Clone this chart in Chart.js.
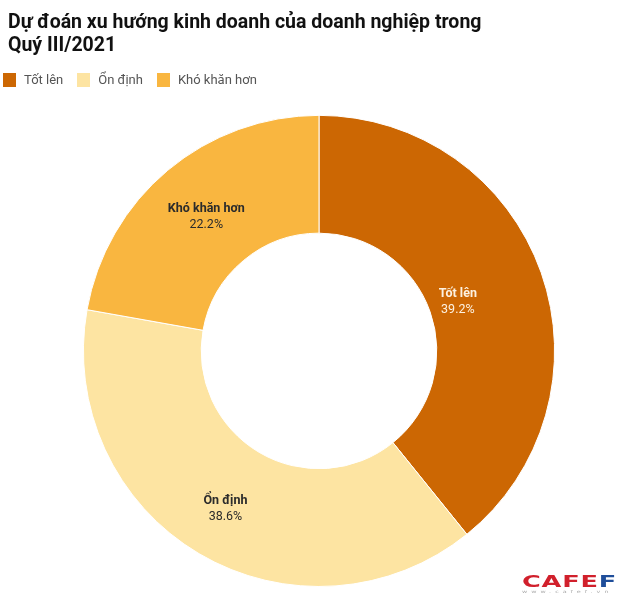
<!DOCTYPE html>
<html>
<head>
<meta charset="utf-8">
<script src="https://cdn.jsdelivr.net/npm/chart.js@4"></script>
<style>
  html, body { margin: 0; padding: 0; background: #fff; }
  #wrap { position: relative; width: 630px; height: 601px; }
  #legend { position: absolute; left: 3px; top: 73px; display: flex; font-family: Roboto, sans-serif; font-size: 13px; color: #555; line-height: 14px; }
  #legend .item { display: flex; align-items: center; margin-right: 14px; }
  #legend .box { width: 13px; height: 14px; margin-right: 8px; }
  #logo { position: absolute; left: 522px; top: 574px; font-family: 'DejaVu Sans', sans-serif; font-weight: bold; font-size: 16px; letter-spacing: 0.5px; line-height: 15px; transform: scaleX(1.6); transform-origin: left top; }
  #logo .r { color: #d1202c; }
  #logo .b { color: #1f4e9a; }
  #logo small { display: block; font-size: 4px; line-height: 5px; color: #aaa; font-weight: normal; letter-spacing: 2.5px; }
</style>
</head>
<body>
<div id="wrap">
  <canvas id="chart" width="630" height="601"></canvas>
  <div id="legend"></div>
  <div id="logo"><span class="r">CAFE</span><span class="b">F</span><small>www.cafef.vn</small></div>
</div>
<script>
const TITLE_LINES = ['Dự đoán xu hướng kinh doanh của doanh nghiệp trong', 'Quý III/2021'];
const CATEGORIES = ['Tốt lên', 'Ổn định', 'Khó khăn hơn'];
const SHARES = [39.2, 38.6, 22.2];
const COLORS = ['#cc6703', '#fde4a2', '#f9b640'];
const LABEL_COLORS = ['#fdf1e0', '#2b2b2b', '#2b2b2b'];
// where inside the ring each label sits (0 = inner edge, 1 = outer edge)
const LABEL_DEPTH = [0.25, 0.56, 0.49];

// legend row under the title
const legendEl = document.getElementById('legend');
CATEGORIES.forEach((name, i) => {
  const item = document.createElement('div');
  item.className = 'item';
  item.innerHTML = `<span class="box" style="background:${COLORS[i]}"></span><span>${name}</span>`;
  legendEl.appendChild(item);
});

const sliceLabels = {
  id: 'sliceLabels',
  afterDatasetsDraw(chart) {
    const ctx = chart.ctx;
    const meta = chart.getDatasetMeta(0);
    meta.data.forEach((arc, i) => {
      const p = arc.getProps(['x', 'y', 'startAngle', 'endAngle', 'innerRadius', 'outerRadius']);
      const mid = (p.startAngle + p.endAngle) / 2;
      const r = p.innerRadius + (p.outerRadius - p.innerRadius) * LABEL_DEPTH[i];
      const x = p.x + Math.cos(mid) * r;
      const y = p.y + Math.sin(mid) * r;
      ctx.save();
      ctx.fillStyle = LABEL_COLORS[i];
      ctx.textAlign = 'center';
      ctx.textBaseline = 'middle';
      ctx.font = 'bold 12.5px Roboto';
      ctx.fillText(CATEGORIES[i], x, y - 8);
      ctx.font = '12.5px Roboto';
      ctx.fillText(SHARES[i].toFixed(1) + '%', x, y + 8);
      ctx.restore();
    });
  }
};

new Chart(document.getElementById('chart'), {
  type: 'doughnut',
  data: {
    labels: CATEGORIES,
    datasets: [{
      data: SHARES,
      backgroundColor: COLORS,
      borderColor: '#ffffff',
      borderWidth: 1,
    }],
  },
  options: {
    responsive: false,
    animation: false,
    cutout: '50%',
    layout: { padding: { left: 8, right: 0, top: 8, bottom: 14 } },
    plugins: {
      title: {
        display: true,
        text: TITLE_LINES,
        align: 'start',
        color: '#111',
        font: { family: 'Roboto', size: 19.5, weight: 'bold', lineHeight: 1.15 },
        padding: { top: 4, bottom: 58 },
      },
      legend: { display: false },
      tooltip: { enabled: false },
    },
  },
  plugins: [sliceLabels],
});
</script>
</body>
</html>
